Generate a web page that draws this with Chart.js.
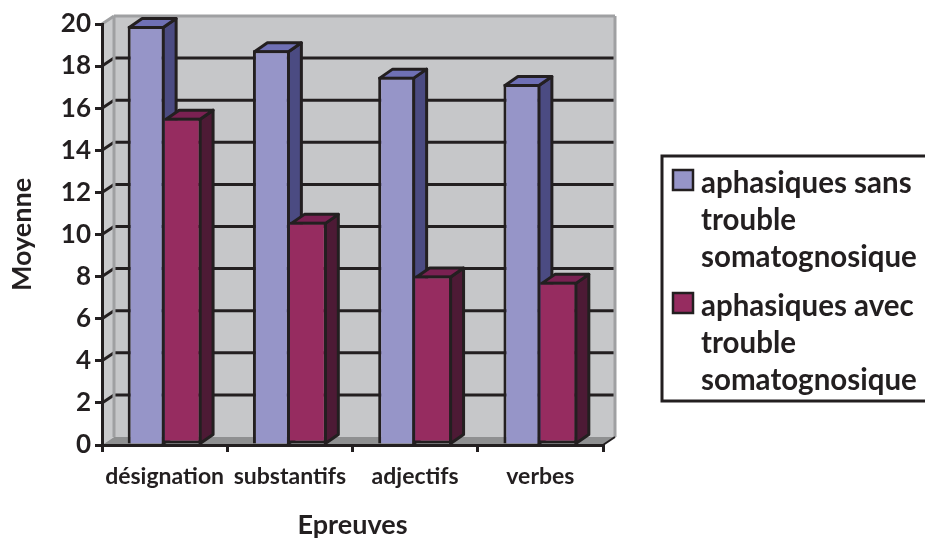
<!DOCTYPE html>
<html>
<head>
<meta charset="utf-8">
<title>Moyenne par epreuve</title>
<script src="https://cdn.jsdelivr.net/npm/chart.js@4"></script>
<style>
  html, body { margin: 0; padding: 0; background: #fff; }
  #wrap { position: relative; width: 925px; height: 539px; }
</style>
</head>
<body>
<div id="wrap"><canvas id="chart" width="925" height="539"></canvas></div>
<script>
const categories = ['désignation', 'substantifs', 'adjectifs', 'verbes'];
const sansTrouble = [19.9, 18.75, 17.5, 17.15];
const avecTrouble = [15.55, 10.6, 8.05, 7.75];
const sansLabel = ['aphasiques sans', 'trouble', 'somatognosique'];
const avecLabel = ['aphasiques avec', 'trouble', 'somatognosique'];

const INK = '#231f20';
const BLUE = '#9695c8';
const RED = '#962c60';
const DEPTH_X = 12;   // 3d wall offset
const DEPTH_Y = 8;
const BAR_LINE = 3;

// fill colours for the side and top faces of the bars
const faces = [
  { side: '#4b4b82', top: '#6f70b5' },
  { side: '#4d1a35', top: '#7a2152' }
];

function poly(ctx, pts, fill, stroke, width) {
  ctx.beginPath();
  pts.forEach((p, i) => (i ? ctx.lineTo(p[0], p[1]) : ctx.moveTo(p[0], p[1])));
  ctx.closePath();
  if (fill) { ctx.fillStyle = fill; ctx.fill(); }
  if (stroke) { ctx.strokeStyle = stroke; ctx.lineWidth = width; ctx.stroke(); }
}

function seg(ctx, x1, y1, x2, y2, color, width) {
  ctx.beginPath();
  ctx.moveTo(x1, y1);
  ctx.lineTo(x2, y2);
  ctx.strokeStyle = color;
  ctx.lineWidth = width;
  ctx.stroke();
}

// back wall, side wall, floor and the grid on them
const wallsPlugin = {
  id: 'walls',
  beforeDraw(chart) {
    const { ctx, chartArea: a, scales: { y } } = chart;
    const dx = DEPTH_X, dy = DEPTH_Y;
    ctx.save();
    poly(ctx, [[a.left + dx, a.top - dy], [a.right + dx, a.top - dy], [a.right + dx, a.bottom - dy], [a.left + dx, a.bottom - dy]], '#c6c7c9');
    poly(ctx, [[a.left, a.top], [a.left + dx, a.top - dy], [a.left + dx, a.bottom - dy], [a.left, a.bottom]], '#c9cacc');
    poly(ctx, [[a.left, a.bottom], [a.left + dx, a.bottom - dy], [a.right + dx, a.bottom - dy], [a.right, a.bottom]], '#8f9091');
    y.ticks.forEach(t => {
      if (t.value === 0 || t.value === y.max) return;
      const py = y.getPixelForValue(t.value);
      seg(ctx, a.left, py, a.left + dx, py - dy, INK, 3);
      seg(ctx, a.left + dx, py - dy, a.right + dx, py - dy, INK, 3);
    });
    // grey edges of the walls
    seg(ctx, a.left, a.top, a.left + dx, a.top - dy, '#9fa0a2', 3);
    seg(ctx, a.left + dx, a.top - dy, a.right + dx, a.top - dy, '#9fa0a2', 3);
    seg(ctx, a.left + dx, a.top - dy, a.left + dx, a.bottom - dy, '#9fa0a2', 3);
    seg(ctx, a.right + dx, a.top - dy, a.right + dx, a.bottom - dy, '#9fa0a2', 3);
    seg(ctx, a.right, a.bottom, a.right + dx, a.bottom - dy, INK, 2);
    ctx.restore();
  }
};

// side and top faces of all bars, under the front faces
const depthPlugin = {
  id: 'depth',
  beforeDatasetsDraw(chart) {
    const { ctx } = chart;
    ctx.save();
    ctx.lineJoin = 'round';
    faces.forEach((face, i) => {
      chart.getDatasetMeta(i).data.forEach(bar => {
        const { x, y, base, width } = bar.getProps(['x', 'y', 'base', 'width'], true);
        // the library draws its border inside the bar, so start on that line
        const inset = BAR_LINE / 2;
        const l = x - width / 2 + inset, r = x + width / 2 - inset, t = y + inset;
        const dx = DEPTH_X + 1, dy = DEPTH_Y + 1;
        poly(ctx, [[r, t], [r + dx, t - dy], [r + dx, base - dy], [r, base]], face.side, INK, BAR_LINE);
        poly(ctx, [[l, t], [l + dx, t - dy], [r + dx, t - dy], [r, t]], face.top, INK, BAR_LINE);
      });
    });
    ctx.restore();
  }
};

// framed legend to the right of the plot
const legendPlugin = {
  id: 'sideLegend',
  afterDraw(chart) {
    const { ctx } = chart;
    const groups = [
      { lines: sansLabel, color: BLUE, swatchY: 170, textY: 183 },
      { lines: avecLabel, color: RED, swatchY: 293, textY: 306 }
    ];
    ctx.save();
    ctx.strokeStyle = INK;
    ctx.lineWidth = 3;
    ctx.strokeRect(662, 156, 270, 245);
    ctx.font = 'bold 29.5px Lato';
    ctx.textBaseline = 'middle';
    groups.forEach(g => {
      ctx.fillStyle = g.color;
      ctx.fillRect(673, g.swatchY, 20, 20);
      ctx.lineWidth = 2.5;
      ctx.strokeRect(673, g.swatchY, 20, 20);
      ctx.fillStyle = INK;
      g.lines.forEach((line, i) => ctx.fillText(line, 701, g.textY + i * 37));
    });
    ctx.restore();
  }
};

new Chart(document.getElementById('chart'), {
  type: 'bar',
  data: {
    labels: categories,
    datasets: [
      { label: sansLabel.join(' '), data: sansTrouble, backgroundColor: BLUE },
      { label: avecLabel.join(' '), data: avecTrouble, backgroundColor: RED, borderSkipped: 'left' }
    ]
  },
  plugins: [wallsPlugin, depthPlugin, legendPlugin],
  options: {
    responsive: false,
    animation: false,
    layout: { padding: { top: 24, right: 322, left: 0, bottom: 0 } },
    datasets: {
      bar: { categoryPercentage: 0.59, barPercentage: 1, borderWidth: BAR_LINE, borderColor: INK }
    },
    plugins: {
      tooltip: { enabled: false },
      legend: { display: false }
    },
    scales: {
      x: {
        afterFit(axis) { axis.height = 94; },
        grid: { drawOnChartArea: false, tickLength: 7, color: INK, lineWidth: 3 },
        border: { color: INK, width: 3 },
        ticks: { color: INK, padding: 11, maxRotation: 0, autoSkip: false, font: { family: 'Lato', weight: 'bold', size: 23 } },
        title: {
          display: true,
          text: 'Epreuves',
          color: INK,
          font: { family: 'Lato', weight: 'bold', size: 27, lineHeight: 1 },
          padding: { top: 22, bottom: 0 }
        }
      },
      y: {
        min: 0,
        max: 20,
        afterFit(axis) { axis.width = 102; },
        grid: { drawOnChartArea: false, tickLength: 7, color: INK, lineWidth: 3 },
        border: { color: INK, width: 3 },
        ticks: { stepSize: 2, color: INK, padding: 4, font: { family: 'Lato', weight: 'bold', size: 26 } },
        title: {
          display: true,
          text: 'Moyenne',
          color: INK,
          font: { family: 'Lato', weight: 'bold', size: 27 },
          padding: { top: 6, bottom: 0 }
        }
      }
    }
  }
});
</script>
</body>
</html>
